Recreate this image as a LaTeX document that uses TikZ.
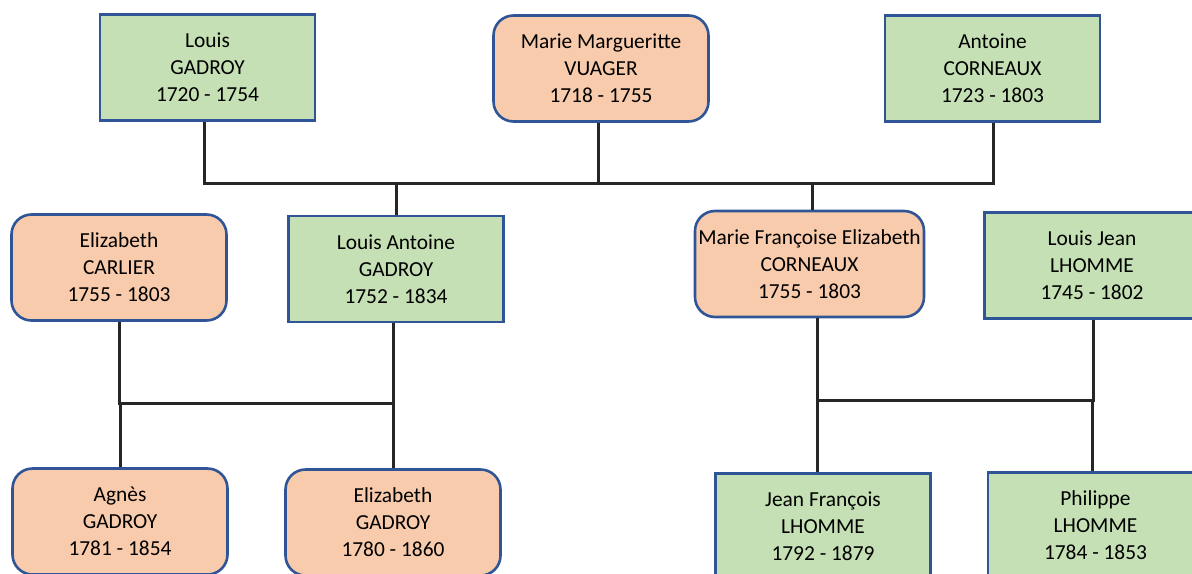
\documentclass[tikz,border=0pt]{standalone}
\usepackage{fontspec}
\setmainfont{Carlito}
\usepackage{xcolor}
\definecolor{boxblue}{HTML}{2F5597}
\definecolor{boxgreen}{HTML}{C5E0B4}
\definecolor{boxorange}{HTML}{F8CBAD}
\definecolor{linegray}{HTML}{262626}
\tikzset{
    green-box/.style = {draw=boxblue, fill=boxgreen, line width=1.3pt, rectangle, minimum width=107.5pt, minimum height=53pt, align=center, font=\fontsize{10.7}{13.5}\selectfont},
    orange-box/.style = {green-box, fill=boxorange, rounded corners=10pt},
    family-line/.style = {draw=linegray, line width=1.5pt},
}

\begin{document}
\begin{tikzpicture}[x=0.5pt, y=-0.5pt]
\useasboundingbox (0,0) rectangle (1192,573);
\clip (0,0) rectangle (1192,573);
\node[green-box] (louis) at (207.5,67.5) {Louis\\GADROY\\1720 - 1754};
\node[orange-box] (vuager) at (601,68.5) {Marie Margueritte\\VUAGER\\1718 - 1755};
\node[green-box] (antoine) at (992.5,68.5) {Antoine\\CORNEAUX\\1723 - 1803};
\node[orange-box] (carlier) at (119,267.5) {Elizabeth\\CARLIER\\1755 - 1803};
\node[green-box] (lagadroy) at (396,269) {Louis Antoine\\GADROY\\1752 - 1834};
\node[orange-box, minimum width=114.5pt, inner xsep=1pt] (mfcorneaux) at (809.5,264) {Marie Françoise Elizabeth\\CORNEAUX\\1755 - 1803};
\node[green-box] (ljlhomme) at (1092,265.5) {Louis Jean\\LHOMME\\1745 - 1802};
\node[orange-box] (agnes) at (120,521.5) {Agnès\\GADROY\\1781 - 1854};
\node[orange-box] (egadroy) at (393,522.5) {Elizabeth\\GADROY\\1780 - 1860};
\node[green-box] (jflhomme) at (823,526.5) {Jean François\\LHOMME\\1792 - 1879};
\node[green-box] (plhomme) at (1095.5,525.5) {Philippe\\LHOMME\\1784 - 1853};

\coordinate (top-bar) at (0,183);
\coordinate (left-bar) at (0,403);
\coordinate (right-bar) at (0,400);

\draw[family-line] ([xshift=-1.5pt]louis.south) |- ([xshift=0.5pt]antoine.south |- top-bar) -- ([xshift=0.5pt]antoine.south);
\draw[family-line] ([xshift=-1.5pt]vuager.south) -- ([xshift=-1.5pt]vuager.south |- top-bar);
\draw[family-line] (lagadroy.north) -- (lagadroy.north |- top-bar);
\draw[family-line] ([xshift=1.5pt]mfcorneaux.north) -- ([xshift=1.5pt]mfcorneaux.north |- top-bar);

\draw[family-line] (carlier.south) |- ([xshift=-1.5pt]lagadroy.south |- left-bar) -- ([xshift=-1.5pt]lagadroy.south);
\draw[family-line] (agnes.north) -- (agnes.north |- left-bar);
\draw[family-line] (egadroy.north) -- (egadroy.north |- left-bar);

\draw[family-line] ([xshift=4pt]mfcorneaux.south) |- ([xshift=0.5pt]ljlhomme.south |- right-bar) -- ([xshift=0.5pt]ljlhomme.south);
\draw[family-line] ([xshift=-3pt]jflhomme.north) -- ([xshift=-3pt]jflhomme.north |- right-bar);
\draw[family-line] ([xshift=-1.5pt]plhomme.north) -- ([xshift=-1.5pt]plhomme.north |- right-bar);
\end{tikzpicture}
\end{document}
